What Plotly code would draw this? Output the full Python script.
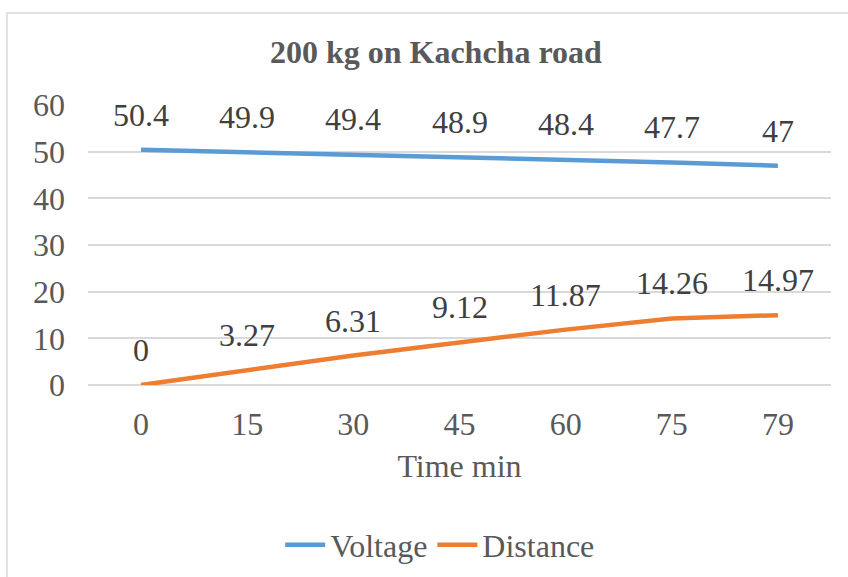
import plotly.graph_objects as go

time_labels = ["0", "15", "30", "45", "60", "75", "79"]
voltage = [50.4, 49.9, 49.4, 48.9, 48.4, 47.7, 47]
distance = [0, 3.27, 6.31, 9.12, 11.87, 14.26, 14.97]

FONT = "Liberation Serif"
FS = 32
fig = go.Figure()
fig.add_trace(go.Scatter(x=time_labels, y=voltage, mode="lines", name="Voltage",
                         line=dict(color="#5b9bd5", width=4.5)))
fig.add_trace(go.Scatter(x=time_labels, y=distance, mode="lines", name="Distance",
                         line=dict(color="#ed7d31", width=4.5)))

for series in (voltage, distance):
    for i, v in enumerate(series):
        fig.add_annotation(x=i, y=v, text=f"{v:g}", showarrow=False, yshift=35,
                           yanchor="middle", font=dict(family=FONT, size=FS, color="#404040"))

fig.add_shape(type="rect", xref="paper", yref="paper", x0=-0.109, x1=1.2, y0=-1.5, y1=1.329,
              line=dict(color="#d9d9d9", width=1.5), fillcolor="rgba(0,0,0,0)", layer="below")

fig.update_layout(
    width=848, height=577,
    margin=dict(l=88, r=17, t=105, b=192),
    paper_bgcolor="white", plot_bgcolor="white",
    font=dict(family=FONT, size=FS, color="#595959"),
    title=dict(text="<b>200 kg on Kachcha road</b>", x=0.514, xanchor="center",
               y=1 - 52 / 577, yanchor="middle", yref="container",
               font=dict(family=FONT, size=FS, color="#595959")),
    xaxis=dict(type="category", range=[-0.5, 6.5], showgrid=False, showline=False,
               zeroline=False, ticks="", ticklabelstandoff=17,
               title=dict(text="Time min", standoff=13, font=dict(size=FS, color="#595959")),
               tickfont=dict(size=FS, color="#595959")),
    yaxis=dict(range=[0, 60], dtick=10, showgrid=True, gridcolor="#d9d9d9", gridwidth=1.5,
               zeroline=True, zerolinecolor="#d9d9d9", zerolinewidth=1.5, showline=False,
               ticks="", ticklabelstandoff=22, tickfont=dict(size=FS, color="#595959")),
    legend=dict(orientation="h", x=0.474, xanchor="center", y=1 - 545 / 577, yref="container",
                yanchor="middle", font=dict(size=FS, color="#595959"), itemwidth=40,
                tracegroupgap=0),
    showlegend=True,
)

fig.write_html("out.html")
